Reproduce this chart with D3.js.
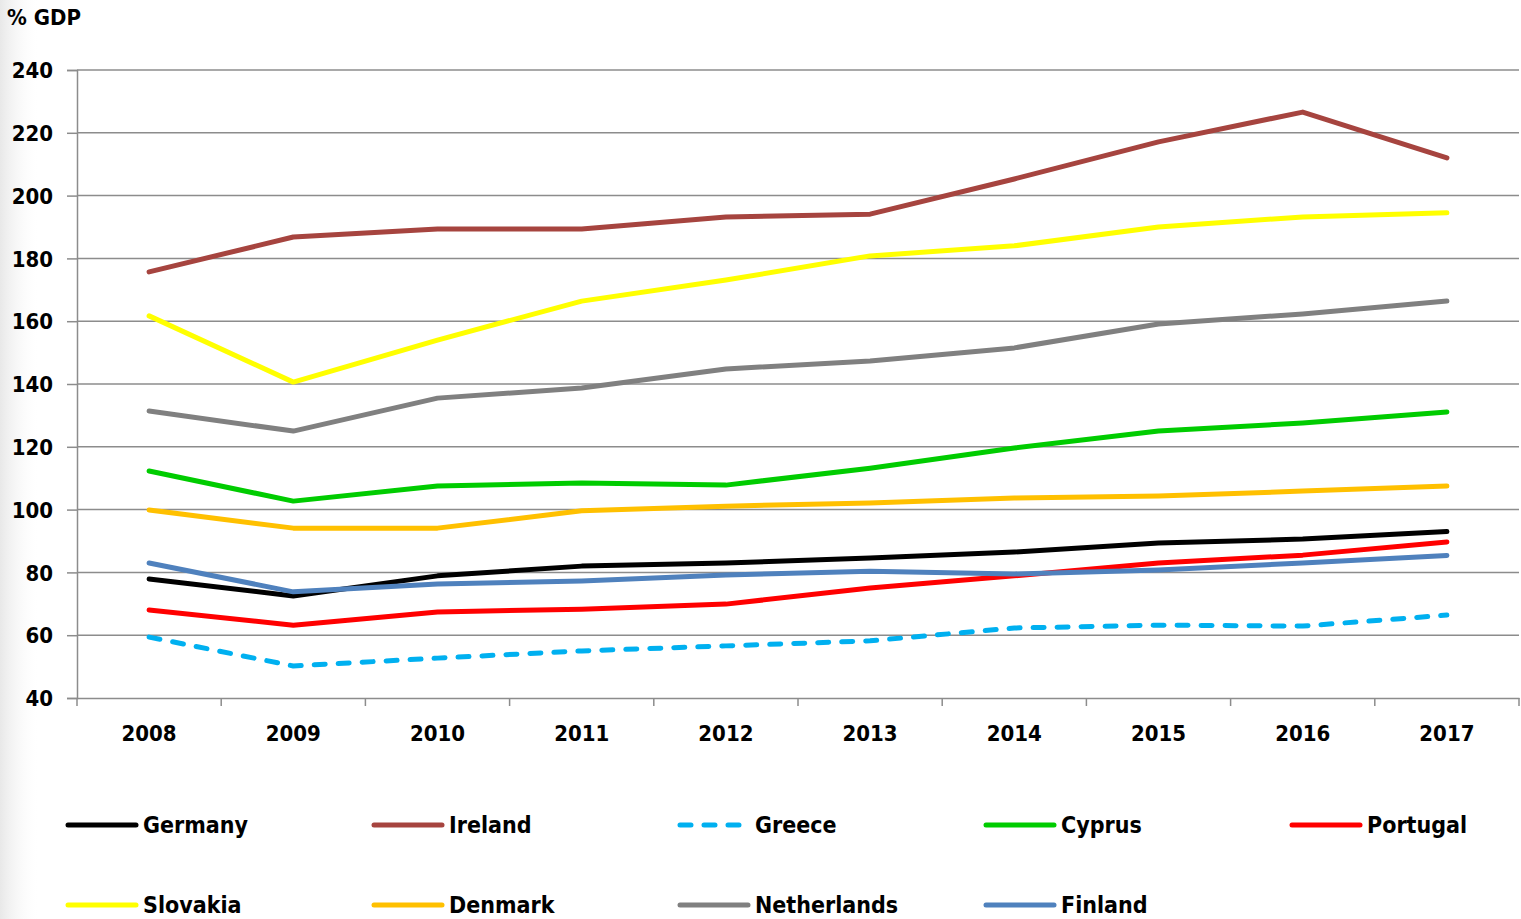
<!DOCTYPE html>
<html>
<head>
<meta charset="utf-8">
<script src="https://cdn.jsdelivr.net/npm/d3@7"></script>
<style>
html,body{margin:0;padding:0;background:#fff;}
svg{display:block;}
text{font-family:"Liberation Sans Narrow","DejaVu Sans Condensed","Arial Narrow",sans-serif;font-weight:bold;fill:#000;}
</style>
</head>
<body>
<svg id="chart" width="1521" height="919"></svg>
<script>
const years = ["2008","2009","2010","2011","2012","2013","2014","2015","2016","2017"];
const yTicks = [40,60,80,100,120,140,160,180,200,220,240];
const germany     = [77.9,72.5,78.9,82.0,83.0,84.6,86.5,89.4,90.6,93.0];
const ireland     = [175.7,186.8,189.4,189.4,193.2,194.1,205.3,217.1,226.6,212.0];
const greece      = [59.4,50.2,52.7,55.0,56.6,58.2,62.3,63.2,62.9,66.4];
const cyprus      = [112.3,102.7,107.5,108.5,107.8,113.2,119.6,125.0,127.6,131.1];
const portugal    = [68.0,63.2,67.4,68.3,69.9,75.0,78.9,83.0,85.5,89.7];
const slovakia    = [161.7,140.6,154.0,166.4,173.1,180.8,184.0,190.0,193.2,194.5];
const denmark     = [99.9,94.1,94.1,99.6,101.1,102.1,103.7,104.3,105.9,107.5];
const netherlands = [131.4,125.0,135.5,138.7,144.8,147.3,151.5,159.1,162.3,166.4];
const finland     = [83.0,73.8,76.3,77.3,79.2,80.4,79.5,80.8,83.0,85.4];

const series = [
  {name:"Germany", values:germany, color:"#000000"},
  {name:"Ireland", values:ireland, color:"#A6443F"},
  {name:"Greece", values:greece, color:"#00B0F0", dash:true},
  {name:"Cyprus", values:cyprus, color:"#00CC00"},
  {name:"Portugal", values:portugal, color:"#FF0000"},
  {name:"Slovakia", values:slovakia, color:"#FFFF00"},
  {name:"Denmark", values:denmark, color:"#FFC000"},
  {name:"Netherlands", values:netherlands, color:"#808080"},
  {name:"Finland", values:finland, color:"#4F81BD"}
];
const drawOrder = ["Ireland","Slovakia","Netherlands","Cyprus","Denmark","Greece","Portugal","Germany","Finland"];

const svg = d3.select("#chart");

const defs = svg.append("defs");
const g1 = defs.append("linearGradient").attr("id","shade").attr("x1","0").attr("x2","1").attr("y1","0").attr("y2","0");
g1.append("stop").attr("offset","0").attr("stop-color","#e8e8e8");
g1.append("stop").attr("offset","1").attr("stop-color","#ffffff").attr("stop-opacity",0);
svg.append("rect").attr("x",0).attr("y",0).attr("width",40).attr("height",919).attr("fill","url(#shade)");

const pLeft = 77, pRight = 1519, pTop = 70, pBottom = 698;
const x = d3.scaleBand().domain(years).range([pLeft, pRight]).padding(0);
const y = d3.scaleLinear().domain([40,240]).range([pBottom, pTop]);

svg.append("g").selectAll("line").data(yTicks.filter(d=>d>40)).join("line")
  .attr("x1",pLeft).attr("x2",pRight).attr("y1",d=>y(d)).attr("y2",d=>y(d))
  .attr("stroke","#8c8c8c").attr("stroke-width",1.5);

const yAxis = svg.append("g").attr("transform",`translate(${pLeft},0)`)
  .call(d3.axisLeft(y).tickValues(yTicks).tickSize(10).tickPadding(14));
yAxis.select(".domain").attr("stroke","#8c8c8c").attr("stroke-width",1.5);
yAxis.selectAll(".tick line").attr("stroke","#8c8c8c").attr("stroke-width",1.5);
yAxis.selectAll(".tick text").style("font-size","22px").attr("dy","0.35em");

const xAxis = svg.append("g").attr("transform",`translate(0,${pBottom})`)
  .call(d3.axisBottom(x).tickSize(0).tickPadding(27));
xAxis.select(".domain").attr("stroke","#8c8c8c").attr("stroke-width",1.5);
xAxis.selectAll(".tick text").style("font-size","22px");
const bounds = years.map(d=>x(d)).concat([pRight]);
svg.append("g").selectAll("line").data(bounds).join("line")
  .attr("x1",d=>d).attr("x2",d=>d).attr("y1",pBottom).attr("y2",pBottom+8)
  .attr("stroke","#8c8c8c").attr("stroke-width",1.5);

svg.append("text").attr("x",7).attr("y",25).style("font-size","22px").text("% GDP");

const line = d3.line().x((d,i)=>x(years[i])+x.bandwidth()/2).y(d=>y(d));
const byName = Object.fromEntries(series.map(s=>[s.name,s]));
svg.append("g").selectAll("path").data(drawOrder.map(n=>byName[n])).join("path")
  .attr("d",s=>line(s.values))
  .attr("fill","none")
  .attr("stroke",s=>s.color)
  .attr("stroke-width",5)
  .attr("stroke-linecap","round")
  .attr("stroke-linejoin","round")
  .attr("stroke-dasharray",s=>s.dash?"11 13":null);

const leg = svg.append("g");
series.forEach((s,i)=>{
  const col = i%5, row = Math.floor(i/5);
  const lx = 68 + col*306, ly = 825 + row*80;
  leg.append("line").attr("x1",lx).attr("x2",lx+68).attr("y1",ly).attr("y2",ly)
    .attr("stroke",s.color).attr("stroke-width",5).attr("stroke-linecap","round")
    .attr("stroke-dasharray",s.dash?"11 13":null);
  leg.append("text").attr("x",lx+75).attr("y",ly).attr("dy","0.35em").style("font-size","23px").text(s.name);
});
</script>
</body>
</html>
